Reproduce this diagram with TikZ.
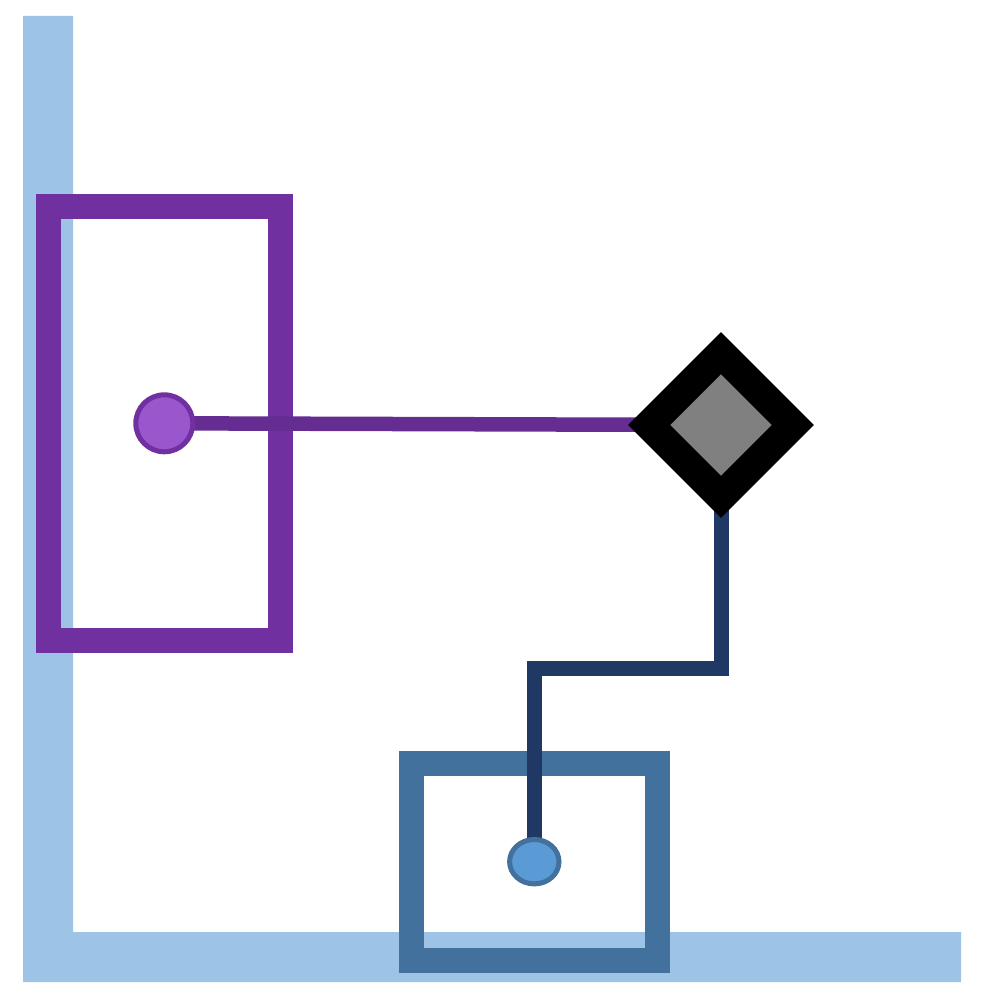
\documentclass[tikz,border=0pt]{standalone}
\usepackage{xcolor}
\usepackage{tikz}
\usetikzlibrary{shapes.geometric,backgrounds}
\definecolor{barblue}{HTML}{9DC3E6}
\definecolor{boxpurple}{HTML}{7030A0}
\definecolor{dotpurple}{HTML}{9A56CD}
\definecolor{linepurple}{HTML}{652D91}
\definecolor{linenavy}{HTML}{203864}
\definecolor{boxblue}{HTML}{41719C}
\definecolor{dotblue}{HTML}{5B9BD5}

\begin{document}
\begin{tikzpicture}[x=1pt, y=-1pt,
  frame/.style={draw, line width=25pt, inner sep=0pt, outer sep=0pt},
  dot/.style={line width=5pt, inner sep=0pt, outer sep=0pt}]
  \useasboundingbox (0,0) rectangle (983,1008);

  % 1. Cac nut tren cung
  \node[dot, circle, draw=boxpurple, fill=dotpurple, minimum size=57pt] (dotP) at (164.3, 423.3) {};
  \node[dot, ellipse, draw=boxblue, fill=dotblue, minimum width=49.4pt, minimum height=44.4pt] (dotB) at (534.3, 861.7) {};
  \node[diamond, aspect=1, draw=black, fill=gray, line width=29.7pt, inner sep=0pt, minimum width=156pt, minimum height=156pt] (gate) at (721, 425) {};
  \coordinate (jog) at (0, 668.5);

  \begin{scope}[on background layer]
    % 2. Khung chu L xanh nhat
    \fill[barblue] (23, 16) -- (73, 16) -- (73, 932) -- (961, 932) -- (961, 982) -- (23, 982) -- cycle;

    % 3. Hai khung
    \node[frame, draw=boxpurple, minimum width=232pt, minimum height=434pt] (boxP) at (164.5, 423.5) {};
    \node[frame, draw=boxblue, minimum width=246pt, minimum height=196.5pt] (boxB) at (534.5, 861.75) {};

    % 4. Duong noi
    \draw[linepurple, line width=14.5pt] (dotP.center) -- (gate.center);
    \draw[linenavy, line width=15pt] (gate.center) -- (gate.center |- jog) -| (dotB.center);
  \end{scope}
\end{tikzpicture}
\end{document}
